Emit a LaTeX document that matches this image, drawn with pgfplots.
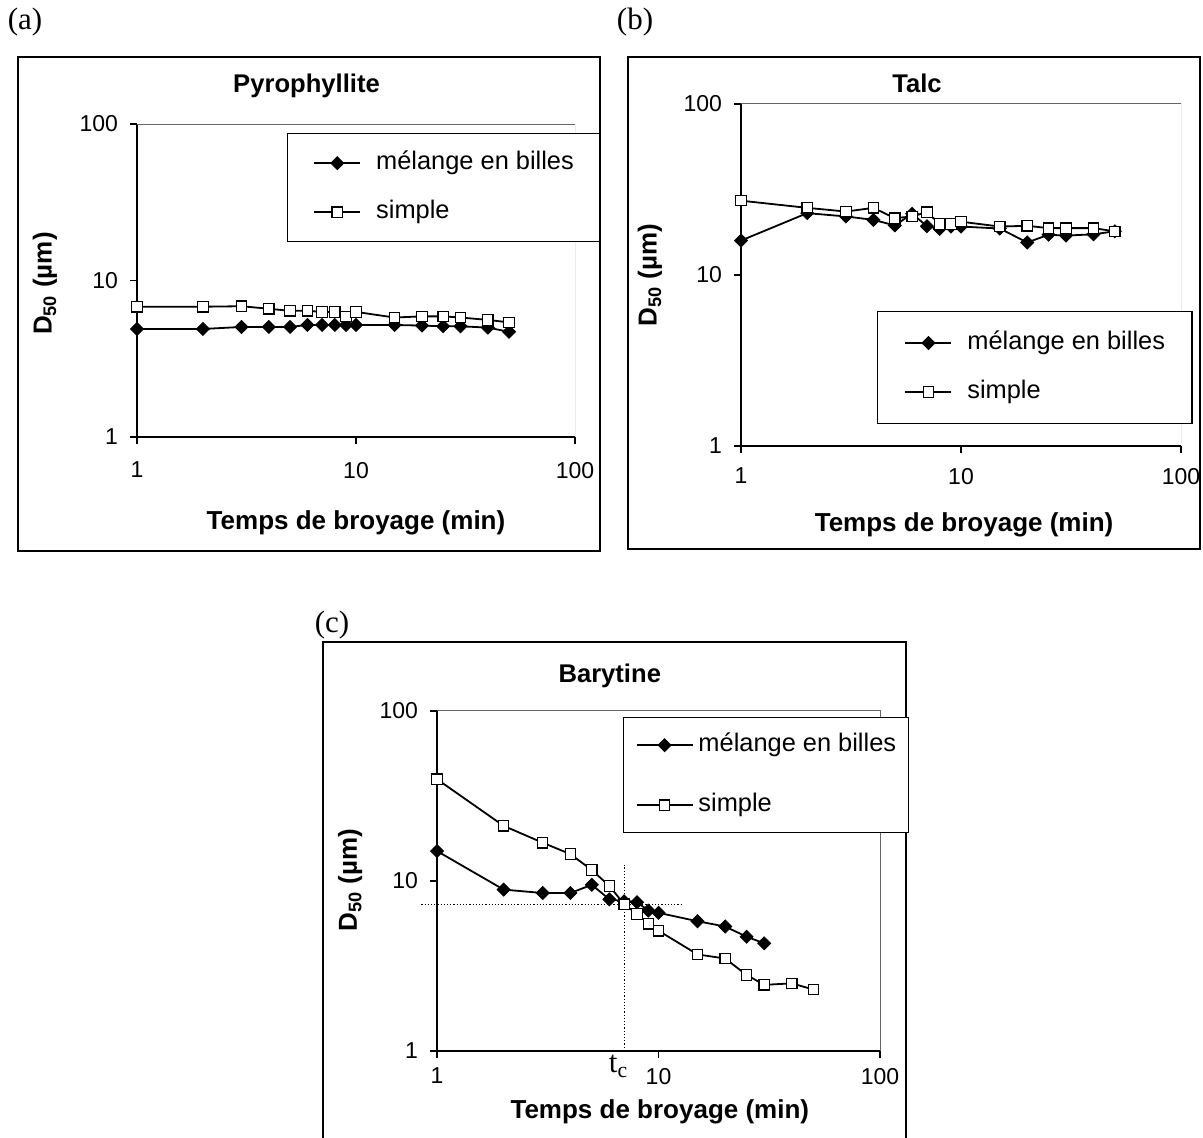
\documentclass[border=0pt]{standalone}
\usepackage{fontspec}
\setmainfont{Liberation Sans}
\newfontfamily\tnr{Liberation Serif}
\usepackage{pgfplots}
\pgfplotsset{compat=1.18}

\newcommand\fTick{\fontsize{11.5}{13}\selectfont}
\newcommand\fLeg{\fontsize{12.7}{15}\selectfont}
\newcommand\fTitle{\fontsize{12.8}{15}\selectfont\bfseries}
\newcommand\fLab{\fontsize{13}{15}\selectfont\bfseries}
\newcommand\fPan{\tnr\fontsize{15.5}{18}\selectfont}

\tikzset{
  mel/.style={black, line width=0.9pt, mark=square*, mark size=2.3pt,
     mark options={rotate=45, fill=black, solid, line width=0.4pt}},
  sim/.style={black, line width=0.9pt, mark=square*, mark size=2.6pt,
     mark options={fill=white, solid, line width=0.6pt}},
}

\begin{document}
\begin{tikzpicture}
\useasboundingbox (0pt,0pt) rectangle (601.5pt,568.5pt);

% frames and panel labels
\draw[black, line width=0.6pt] (9pt,293pt) rectangle (300pt,540pt);
\draw[black, line width=0.6pt] (314pt,294pt) rectangle (600pt,540pt);
\draw[black, line width=0.6pt] (161.5pt,-10pt) rectangle (453pt,247.5pt);
\node[font=\fPan] at (12.5pt,557.5pt) {(a)};
\node[font=\fPan] at (317.5pt,557.5pt) {(b)};
\node[font=\fPan] at (166pt,256pt) {(c)};

% (a) Pyrophyllite
\begin{axis}[at={(68.5pt,350pt)}, anchor=south west,
  scale only axis, width=219pt, height=156.5pt,
  xmode=log, ymode=log, xmin=1, xmax=100, ymin=1, ymax=100,
  axis x line*=bottom, axis y line*=left,
  axis line style={black, line width=0.6pt},
  xtick={1,10,100}, xticklabels={1,10,100},
  ytick={1,10,100}, yticklabels={1,10,100},
  xminorticks=false, yminorticks=false,
  tick align=outside, major tick length=3.5pt,
  tick style={black, line width=0.6pt},
  tick label style={font=\fTick},
  yticklabel style={xshift=-2.5pt},
  xticklabel style={yshift=-5.5pt},
  xlabel={Temps de broyage (min)},
  ylabel={D\textsubscript{50} (µm)},
  label style={font=\fLab},
  title={Pyrophyllite},
  every axis title shift=0pt,
  title style={font=\fTitle, anchor=center, at={(axis description cs:0.387,1.121)}},
  xlabel style={at={(axis description cs:0.5,-0.275)}, anchor=center},
  ylabel style={at={(axis description cs:-0.21,0.49)}, anchor=center},
  legend cell align=left,
  legend image code/.code={\draw[mark repeat=2,mark phase=2] plot coordinates {(0pt,0pt) (11.5pt,0pt) (23pt,0pt)};},
  legend style={draw=black, line width=0.6pt, fill=white, font=\fLeg, anchor=north west,
     nodes={inner sep=0pt, text height=9.5pt, text depth=3pt},
     column sep=7.5pt, row sep=12pt, inner ysep=8.5pt,
     at={(0.342,0.971)}, inner xsep=13pt},
]
\draw[black!60, line width=0.5pt] (rel axis cs:0,1) -- (rel axis cs:1,1) -- (rel axis cs:1,0);
\addplot[mel] coordinates {(1,4.9) (2,4.9) (3,5.05) (4,5.05) (5,5.05) (6,5.2) (7,5.2) (8,5.2) (9,5.2) (10,5.2) (15,5.2) (20,5.15) (25,5.1) (30,5.1) (40,5.0) (50,4.7)};
\addlegendentry{mélange en billes}
\addplot[sim] coordinates {(1,6.8) (2,6.8) (3,6.85) (4,6.6) (5,6.4) (6,6.4) (7,6.3) (8,6.3) (9,5.9) (10,6.3) (15,5.8) (20,5.9) (25,5.9) (30,5.8) (40,5.6) (50,5.4)};
\addlegendentry{simple}
\end{axis}

% (b) Talc
\begin{axis}[at={(370.5pt,345.5pt)}, anchor=south west,
  scale only axis, width=220pt, height=171pt,
  xmode=log, ymode=log, xmin=1, xmax=100, ymin=1, ymax=100,
  axis x line*=bottom, axis y line*=left,
  axis line style={black, line width=0.6pt},
  xtick={1,10,100}, xticklabels={1,10,100},
  ytick={1,10,100}, yticklabels={1,10,100},
  xminorticks=false, yminorticks=false,
  tick align=outside, major tick length=3.5pt,
  tick style={black, line width=0.6pt},
  tick label style={font=\fTick},
  yticklabel style={xshift=-2.5pt},
  xticklabel style={yshift=-4pt},
  xlabel={Temps de broyage (min)},
  ylabel={D\textsubscript{50} (µm)},
  label style={font=\fLab},
  title={Talc},
  every axis title shift=0pt,
  title style={font=\fTitle, anchor=center, at={(axis description cs:0.40,1.061)}},
  xlabel style={at={(axis description cs:0.507,-0.231)}, anchor=center},
  ylabel style={at={(axis description cs:-0.207,0.5)}, anchor=center},
  legend cell align=left,
  legend image code/.code={\draw[mark repeat=2,mark phase=2] plot coordinates {(0pt,0pt) (11.5pt,0pt) (23pt,0pt)};},
  legend style={draw=black, line width=0.6pt, fill=white, font=\fLeg, anchor=north west,
     nodes={inner sep=0pt, text height=9.5pt, text depth=3pt},
     column sep=7.5pt, row sep=12pt, inner ysep=9.5pt,
     at={(0.309,0.395)}, inner xsep=13.5pt},
]
\draw[black!60, line width=0.5pt] (rel axis cs:0,1) -- (rel axis cs:1,1) -- (rel axis cs:1,0);
\addplot[mel] coordinates {(1,15.9) (2,23) (3,22) (4,21) (5,19.5) (6,22.8) (7,19.3) (8,18.6) (9,19.2) (10,19.2) (15,18.7) (20,15.5) (25,17.2) (30,17) (40,17.3) (50,18)};
\addlegendentry{mélange en billes}
\addplot[sim] coordinates {(1,27.2) (2,24.7) (3,23.5) (4,24.7) (5,21.5) (6,22) (7,23.3) (8,19.9) (9,19.9) (10,20.5) (15,19.2) (20,19.4) (25,18.8) (30,18.8) (40,18.8) (50,18.0)};
\addlegendentry{simple}
\end{axis}

% (c) Barytine
\begin{axis}[at={(218.5pt,43pt)}, anchor=south west,
  scale only axis, width=221.5pt, height=170pt, clip=false,
  xmode=log, ymode=log, xmin=1, xmax=100, ymin=1, ymax=100,
  axis x line*=bottom, axis y line*=left,
  axis line style={black, line width=0.6pt},
  xtick={1,10,100}, xticklabels={1,10,100},
  ytick={1,10,100}, yticklabels={1,10,100},
  xminorticks=false, yminorticks=false,
  tick align=outside, major tick length=3.5pt,
  tick style={black, line width=0.6pt},
  tick label style={font=\fTick},
  yticklabel style={xshift=-2.5pt},
  xticklabel style={yshift=-1.5pt},
  xlabel={Temps de broyage (min)},
  ylabel={D\textsubscript{50} (µm)},
  label style={font=\fLab},
  title={Barytine},
  every axis title shift=0pt,
  title style={font=\fTitle, anchor=center, at={(axis description cs:0.39,1.103)}},
  xlabel style={at={(axis description cs:0.503,-0.179)}, anchor=center},
  ylabel style={at={(axis description cs:-0.196,0.503)}, anchor=center},
  legend cell align=left,
  legend image code/.code={\draw[mark repeat=2,mark phase=2] plot coordinates {(0pt,0pt) (14pt,0pt) (28pt,0pt)};},
  legend style={draw=black, line width=0.6pt, fill=white, font=\fLeg, anchor=north west,
     nodes={inner sep=0pt, text height=9.5pt, text depth=3pt},
     column sep=2.5pt, row sep=17.5pt, inner ysep=7.5pt,
     at={(0.42,0.982)}, inner xsep=6pt},
]
\draw[black!60, line width=0.5pt] (rel axis cs:0,1) -- (rel axis cs:1,1) -- (rel axis cs:1,0);
\addplot[black, densely dotted, line width=0.6pt, forget plot] coordinates {(0.85,7.3) (13,7.3)};
\addplot[black, densely dotted, line width=0.6pt, forget plot] coordinates {(7,1) (7,12.4)};
\addplot[mel] coordinates {(1,15.0) (2,8.9) (3,8.5) (4,8.5) (5,9.5) (6,7.8) (7,7.6) (8,7.5) (9,6.7) (10,6.5) (15,5.8) (20,5.4) (25,4.7) (30,4.3)};
\addlegendentry{mélange en billes}
\addplot[sim] coordinates {(1,39.7) (2,21.1) (3,16.8) (4,14.4) (5,11.6) (6,9.35) (7,7.3) (8,6.4) (9,5.6) (10,5.1) (15,3.7) (20,3.5) (25,2.8) (30,2.45) (40,2.5) (50,2.3)};
\addlegendentry{simple}
\node[font=\fPan, anchor=north, inner sep=0pt, yshift=-2pt] at (axis cs:6.6,1) {t\textsubscript{c}};
\end{axis}
\end{tikzpicture}
\end{document}
